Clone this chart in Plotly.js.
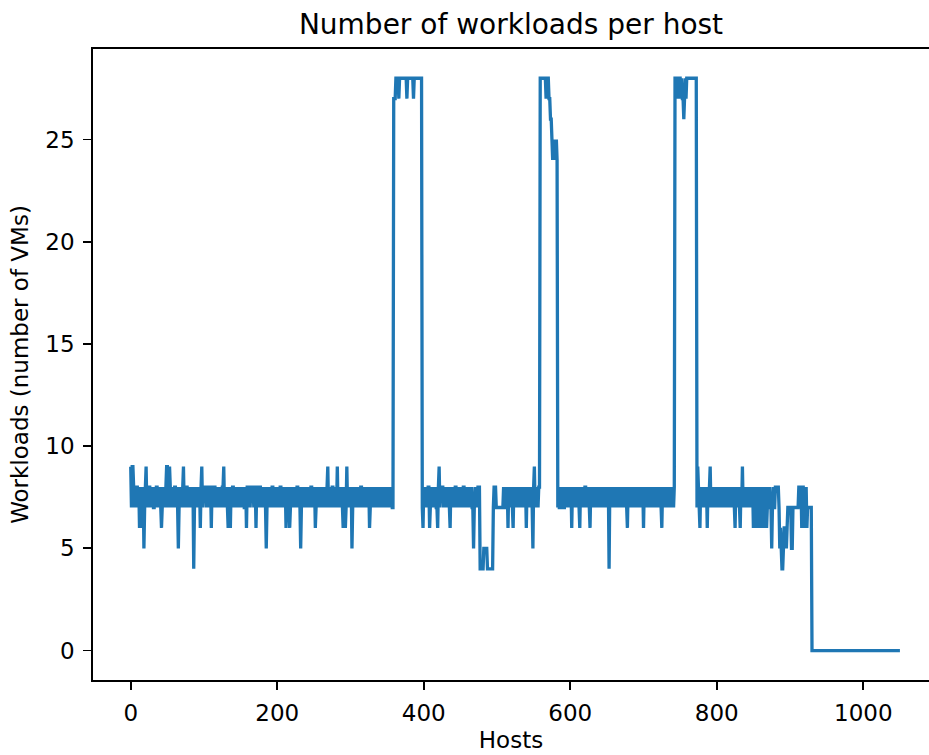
<!DOCTYPE html>
<html>
<head>
<meta charset="utf-8">
<script src="https://cdn.plot.ly/plotly-3.0.1.min.js"></script>
<style>
html,body{margin:0;padding:0;background:#fff;}
#chart{width:929px;height:755px;}
</style>
</head>
<body>
<div id="chart"></div>
<script>
// Number of workloads (VMs) on each host, host index = array position
const workloads = [
9,7,9,9,8,7,8,7,8,8,
7,8,6,7,8,6,7,8,5,7,
8,9,7,8,7,8,8,7,8,7,
8,7,7,8,7,8,8,7,8,7,
8,7,6,7,8,7,8,7,8,9,
9,7,8,9,8,7,8,7,8,7,
8,8,7,8,7,5,7,8,7,8,
7,8,9,7,8,7,8,8,7,8,
7,8,7,8,7,8,4,7,8,7,
8,7,8,7,8,6,8,9,7,8,
8,8,8,7,8,8,8,7,8,8,
6,8,8,7,8,8,7,8,7,8,
7,8,7,8,7,8,8,9,7,8,
7,8,7,6,8,7,6,8,7,8,
8,7,8,7,8,7,8,7,8,7,
8,7,8,7,8,7,7,8,6,8,
8,8,8,7,8,8,8,8,7,8,
8,6,8,8,8,7,8,8,7,8,
7,8,7,8,7,5,7,8,7,8,
7,8,7,8,8,7,8,7,8,7,
8,7,8,7,8,8,7,8,7,8,
7,8,6,8,7,8,7,6,7,8,
7,8,7,8,7,8,7,8,8,7,
8,7,5,7,8,7,8,7,8,7,
8,7,8,7,8,7,8,8,7,8,
7,8,6,7,8,7,8,7,8,7,
8,7,8,7,8,7,8,7,8,9,
7,8,7,8,7,8,8,7,8,7,
8,7,9,7,8,7,8,7,8,7,
6,8,7,6,7,9,7,8,7,8,
7,8,5,7,8,7,8,7,8,7,
8,7,8,7,8,8,7,8,7,8,
7,8,7,8,7,8,6,7,8,7,
8,7,8,7,8,7,8,7,8,7,
8,7,8,7,8,7,8,7,8,7,
8,7,8,7,8,7,8,7,7,27,
27,27,28,28,28,28,27,28,28,28,
28,28,28,28,28,28,28,27,28,28,
28,28,28,28,28,28,27,28,28,28,
28,28,28,28,28,28,28,28,7,6,
8,7,8,7,8,7,8,8,6,7,
8,7,8,7,8,7,8,7,7,6,
8,9,7,8,8,8,8,7,8,7,
8,7,8,7,8,7,6,8,7,8,
7,8,7,8,8,7,8,7,8,7,
8,7,8,7,8,8,7,8,7,8,
7,8,7,8,7,8,7,7,5,7,
8,7,8,7,8,8,8,4,4,4,
4,4,5,5,5,5,5,4,4,4,
4,4,4,4,4,7,8,8,8,7,
7,7,7,7,7,7,7,7,7,8,
7,7,8,7,8,6,8,7,8,7,
8,7,6,8,7,8,7,8,7,8,
7,8,7,8,7,8,7,8,7,8,
6,8,7,8,7,8,7,8,7,5,
8,9,7,8,7,8,7,8,8,28,
28,28,28,28,28,28,28,27,28,28,
28,27,27,26,26,25,24,25,24,25,
24,25,24,7,8,7,7,7,8,7,
8,7,7,8,7,8,7,8,7,8,
7,8,6,8,7,8,7,8,7,8,
7,8,7,6,8,7,8,7,8,7,
8,8,7,8,7,8,7,6,8,7,
8,7,8,7,8,7,8,7,8,7,
8,7,8,7,8,7,8,7,8,7,
8,7,8,4,8,7,8,7,8,7,
8,7,8,7,8,7,8,7,8,7,
8,7,8,7,8,7,8,7,6,8,
7,8,7,8,7,8,7,8,7,8,
7,8,7,8,7,8,7,8,7,8,
6,8,7,8,7,8,7,8,7,8,
7,8,7,8,7,8,7,8,7,8,
7,8,7,8,7,6,8,7,8,7,
8,7,8,7,8,7,8,7,8,7,
8,7,8,28,28,27,28,27,28,28,
28,27,28,27,27,26,27,28,27,28,
28,28,28,28,28,28,28,28,28,28,
28,28,28,7,9,8,7,6,8,7,
8,7,8,7,8,7,8,6,8,7,
8,9,7,8,7,8,7,8,7,8,
7,8,7,8,7,8,7,8,7,8,
7,8,7,8,7,8,7,8,7,8,
7,8,7,8,7,6,8,7,8,7,
8,7,6,8,7,9,7,8,7,8,
7,8,7,8,7,8,7,8,7,8,
6,7,8,7,6,7,8,6,7,8,
7,6,7,8,6,7,8,7,6,7,
8,7,8,7,7,5,7,8,7,7,
8,8,8,8,8,7,5,6,5,4,
4,5,6,6,6,5,6,7,7,7,
7,7,5,5,7,7,7,7,7,7,
7,7,8,8,8,8,6,8,8,6,
8,6,8,6,7,7,7,7,7,7,
0,0,0,0,0,0,0,0,0,0,
0,0,0,0,0,0,0,0,0,0,
0,0,0,0,0,0,0,0,0,0,
0,0,0,0,0,0,0,0,0,0,
0,0,0,0,0,0,0,0,0,0,
0,0,0,0,0,0,0,0,0,0,
0,0,0,0,0,0,0,0,0,0,
0,0,0,0,0,0,0,0,0,0,
0,0,0,0,0,0,0,0,0,0,
0,0,0,0,0,0,0,0,0,0,
0,0,0,0,0,0,0,0,0,0,
0,0,0,0,0,0,0,0,0,0,
0
];
const hosts = workloads.map((_, i) => i);

const xTicks = [0, 200, 400, 600, 800, 1000];
const yTicks = [0, 5, 10, 15, 20, 25];

const FONT = "DejaVu Sans, sans-serif";

const trace = {
  x: hosts,
  y: workloads,
  type: "scatter",
  mode: "lines",
  line: {color: "#1f77b4", width: 3.3, simplify: false},
  hoverinfo: "skip"
};

const axisCommon = {
  showgrid: false,
  zeroline: false,
  showline: true,
  linecolor: "#000",
  linewidth: 1.8,
  ticks: "outside",
  ticklen: 8,
  tickwidth: 1.8,
  tickcolor: "#000",
  tickfont: {family: FONT, size: 23, color: "#000"}
};

const layout = {
  width: 929,
  height: 755,
  margin: {l: 93, r: 0, t: 49, b: 75},
  paper_bgcolor: "#fff",
  plot_bgcolor: "#fff",
  showlegend: false,
  font: {family: FONT, color: "#000"},
  title: {
    text: "Number of workloads per host",
    font: {family: FONT, size: 28, color: "#000"},
    xref: "paper", x: 0.5, xanchor: "center",
    yref: "container", y: 1 - 24/755, yanchor: "middle"
  },
  xaxis: Object.assign({}, axisCommon, {
    range: [-51.5, 1089.7],
    tickvals: xTicks,
    ticktext: xTicks.map(String),
    mirror: true,
    ticklabelstandoff: 4,
    title: {text: "Hosts", font: {family: FONT, size: 23, color: "#000"}, standoff: 6}
  }),
  yaxis: Object.assign({}, axisCommon, {
    range: [-1.44, 29.43],
    tickvals: yTicks,
    ticktext: yTicks.map(String),
    mirror: false,
    ticklabelstandoff: 4,
    title: {text: "Workloads (number of VMs)", font: {family: FONT, size: 23, color: "#000"}, standoff: 10}
  })
};

Plotly.newPlot("chart", [trace], layout, {staticPlot: true, displayModeBar: false});
</script>
</body>
</html>
